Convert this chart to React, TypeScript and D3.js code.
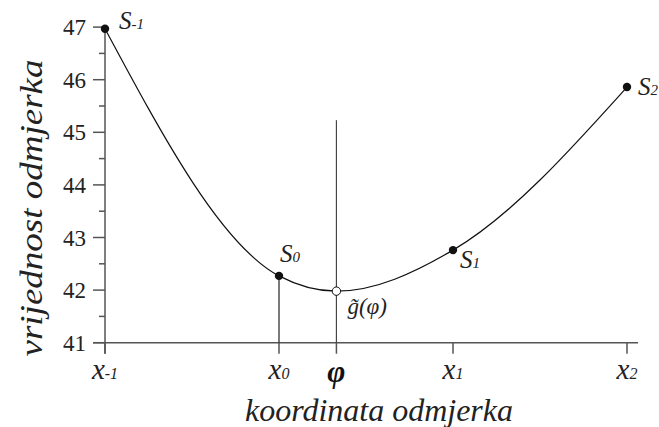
import React from "react";
import * as d3 from "d3";

// Sample positions (index) and their values
const sampleIdx = [-1, 0, 1, 2];
const sampleVal = [46.97, 42.27, 42.76, 45.86];
const sampleSub = ["-1", "0", "1", "2"];

// Interpolated point between x0 and x1 (the minimum of the reconstruction)
const phiPos = 0.33;
const phiVal = 41.98;
const phiLineTop = 45.23;

// Axis ticks
const yMajor = [41, 42, 43, 44, 45, 46, 47];
const yMinor = [41.5, 42.5, 43.5, 44.5, 45.5, 46.5];

const W = 659;
const H = 427;
const SERIF: React.CSSProperties = { fontFamily: "Liberation Serif" };
const AXIS = "#555";

export default function App() {
  const x = d3.scaleLinear().domain([-1, 2]).range([105, 627]);
  const y = d3.scaleLinear().domain([41, 47]).range([342.7, 27.1]);

  const curvePts: [number, number][] = [
    [sampleIdx[0], sampleVal[0]],
    [sampleIdx[1], sampleVal[1]],
    [phiPos, phiVal],
    [sampleIdx[2], sampleVal[2]],
    [sampleIdx[3], sampleVal[3]],
  ];
  const line = d3
    .line<[number, number]>()
    .x((d) => x(d[0]))
    .y((d) => y(d[1]))
    .curve(d3.curveMonotoneX);

  const x0 = x.range()[0];
  const yBase = y(41);

  // label offsets for each sample point: [dx, dy]
  const sLabelOff: [number, number][] = [
    [14, 0],
    [1, -14],
    [7, 18],
    [11, 8],
  ];

  return (
    <svg width={W} height={H} style={{ position: "absolute", left: 0, top: 0, background: "#fff" }}>
      {/* y axis */}
      <line x1={x0} x2={x0} y1={y(47) - 2} y2={yBase + 11} stroke={AXIS} strokeWidth={1.5} />
      {yMajor.map((v) => (
        <g key={"M" + v}>
          <line x1={x0 - 12} x2={x0} y1={y(v)} y2={y(v)} stroke={AXIS} strokeWidth={1.5} />
          <text x={x0 - 19} y={y(v) + 8} textAnchor="end" fontSize={23} fill="#222" style={SERIF}>
            {v}
          </text>
        </g>
      ))}
      {yMinor.map((v) => (
        <line key={"m" + v} x1={x0 - 6} x2={x0} y1={y(v)} y2={y(v)} stroke={AXIS} strokeWidth={1.5} />
      ))}

      {/* x axis */}
      <line x1={x0 - 12} x2={638} y1={yBase} y2={yBase} stroke={AXIS} strokeWidth={1.5} />
      {[...sampleIdx, phiPos].map((v) => (
        <line key={"xt" + v} x1={x(v)} x2={x(v)} y1={yBase} y2={yBase + 11} stroke={AXIS} strokeWidth={1.5} />
      ))}
      {sampleIdx.map((v, i) => (
        <text key={"xl" + v} x={x(v)} y={379} textAnchor="middle" fontStyle="italic" fill="#222" style={SERIF}>
          <tspan fontSize={29}>x</tspan>
          <tspan fontSize={16}>{sampleSub[i]}</tspan>
        </text>
      ))}
      <text
        x={x(phiPos)}
        y={382}
        textAnchor="middle"
        fontStyle="italic"
        fontWeight="bold"
        fontSize={31}
        fill="#111"
        style={SERIF}
      >
        φ
      </text>

      {/* axis titles */}
      <text
        x={379}
        y={421}
        textAnchor="middle"
        fontStyle="italic"
        fontSize={31}
        fill="#222"
        textLength={268}
        lengthAdjust="spacingAndGlyphs"
        style={SERIF}
      >
        koordinata odmjerka
      </text>
      <text
        transform={`translate(42,208) rotate(-90)`}
        textAnchor="middle"
        fontStyle="italic"
        fontSize={32}
        fill="#222"
        textLength={297}
        lengthAdjust="spacingAndGlyphs"
        style={SERIF}
      >
        vrijednost odmjerka
      </text>

      {/* guide lines */}
      <line x1={x(0)} x2={x(0)} y1={y(sampleVal[1])} y2={yBase} stroke="#222" strokeWidth={1.2} />
      <line x1={x(phiPos)} x2={x(phiPos)} y1={y(phiLineTop)} y2={yBase} stroke="#444" strokeWidth={1.2} />

      {/* reconstruction curve */}
      <path d={line(curvePts) ?? ""} fill="none" stroke="#111" strokeWidth={1.2} />

      {/* samples */}
      {sampleIdx.map((v, i) => (
        <g key={"s" + v}>
          <circle cx={x(v)} cy={y(sampleVal[i])} r={4.2} fill="#111" />
          <text
            x={x(v) + sLabelOff[i][0]}
            y={y(sampleVal[i]) + sLabelOff[i][1]}
            fontStyle="italic"
            fill="#222"
            style={SERIF}
          >
            <tspan fontSize={25}>S</tspan>
            <tspan fontSize={15}>{sampleSub[i]}</tspan>
          </text>
        </g>
      ))}

      {/* interpolated value */}
      <circle cx={x(phiPos)} cy={y(phiVal)} r={4.2} fill="#fff" stroke="#111" strokeWidth={1} />
      <text x={x(phiPos) + 11} y={y(phiVal) + 23} fontStyle="italic" fontSize={23} fill="#222" style={SERIF}>
        {"g\u0303(φ)"}
      </text>
    </svg>
  );
}
